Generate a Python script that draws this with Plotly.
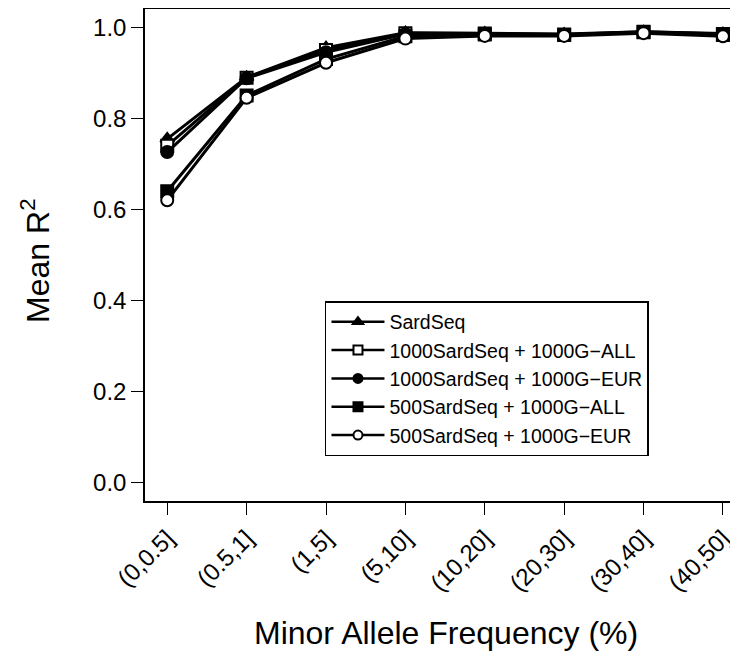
import plotly.graph_objects as go

categories = ["(0,0.5]", "(0.5,1]", "(1,5]", "(5,10]", "(10,20]", "(20,30]", "(30,40]", "(40,50]"]
x_pos = [1, 2, 3, 4, 5, 6, 7, 8]

sardseq = [0.755, 0.890, 0.955, 0.988, 0.987, 0.985, 0.990, 0.986]
sard1000_all = [0.740, 0.889, 0.950, 0.987, 0.986, 0.984, 0.990, 0.985]
sard1000_eur = [0.726, 0.888, 0.945, 0.985, 0.984, 0.983, 0.989, 0.984]
sard500_all = [0.640, 0.850, 0.930, 0.980, 0.984, 0.983, 0.989, 0.983]
sard500_eur = [0.620, 0.845, 0.922, 0.975, 0.981, 0.981, 0.987, 0.980]

y_ticks = [0.0, 0.2, 0.4, 0.6, 0.8, 1.0]
y_ticktext = ["0.0", "0.2", "0.4", "0.6", "0.8", "1.0"]

series = [
    ("SardSeq", sardseq, "triangle-up", "black"),
    ("1000SardSeq + 1000G\u2212ALL", sard1000_all, "square", "white"),
    ("1000SardSeq + 1000G\u2212EUR", sard1000_eur, "circle", "black"),
    ("500SardSeq + 1000G\u2212ALL", sard500_all, "square", "black"),
    ("500SardSeq + 1000G\u2212EUR", sard500_eur, "circle", "white"),
]

FONT = "Liberation Sans, Arial, Helvetica, sans-serif"

fig = go.Figure()
for name, vals, sym, fill in series:
    fig.add_trace(go.Scatter(
        x=x_pos, y=vals, name=name, mode="lines+markers", showlegend=False,
        line=dict(color="black", width=3),
        marker=dict(symbol=sym, size=12, color=fill, line=dict(color="black", width=2)),
    ))
# legend entries (smaller symbols, like the reference key)
for name, vals, sym, fill in series:
    fig.add_trace(go.Scatter(
        x=[None], y=[None], name=name, mode="lines+markers", showlegend=True,
        line=dict(color="black", width=2.5),
        marker=dict(symbol=sym, size=9, color=fill, line=dict(color="black", width=2)),
    ))

# the page body adds an 8px offset; figure is sized so it ends at the window edge
fig.update_layout(
    width=730, height=646,
    margin=dict(l=137, r=0, t=1, b=153),
    paper_bgcolor="white", plot_bgcolor="white",
    font=dict(family=FONT, color="black"),
    showlegend=True,
    legend=dict(
        x=0.3035, y=0.4065, xanchor="left", yanchor="top",
        bordercolor="black", borderwidth=1.5, bgcolor="white",
        font=dict(size=19.5, family=FONT),
        tracegroupgap=0, itemwidth=53,
    ),
    xaxis=dict(
        range=[0.72, 8.19], tickmode="array", tickvals=x_pos, ticktext=categories,
        tickangle=-45, ticks="outside", ticklen=12, tickwidth=1.2, tickcolor="black",
        showline=True, linecolor="black", linewidth=1.5, mirror=True,
        showgrid=False, zeroline=False, tickfont=dict(size=24), automargin=False,
    ),
    yaxis=dict(
        range=[-0.04, 1.04], tickmode="array", tickvals=y_ticks, ticktext=y_ticktext,
        ticks="outside", ticklen=12, tickwidth=1.2, tickcolor="black",
        showline=True, linecolor="black", linewidth=1.5, mirror=False,
        showgrid=False, zeroline=False, tickfont=dict(size=24), automargin=False,
    ),
    annotations=[
        dict(text="Minor Allele Frequency (%)", xref="paper", yref="paper",
             x=0.5076, y=-0.268, xanchor="center", yanchor="middle",
             showarrow=False, font=dict(size=32)),
        dict(text="Mean R<sup>2</sup>", xref="paper", yref="paper",
             x=-0.1855, y=0.49, xanchor="center", yanchor="middle", textangle=-90,
             showarrow=False, font=dict(size=32)),
    ],
)

fig.write_html("out.html")
